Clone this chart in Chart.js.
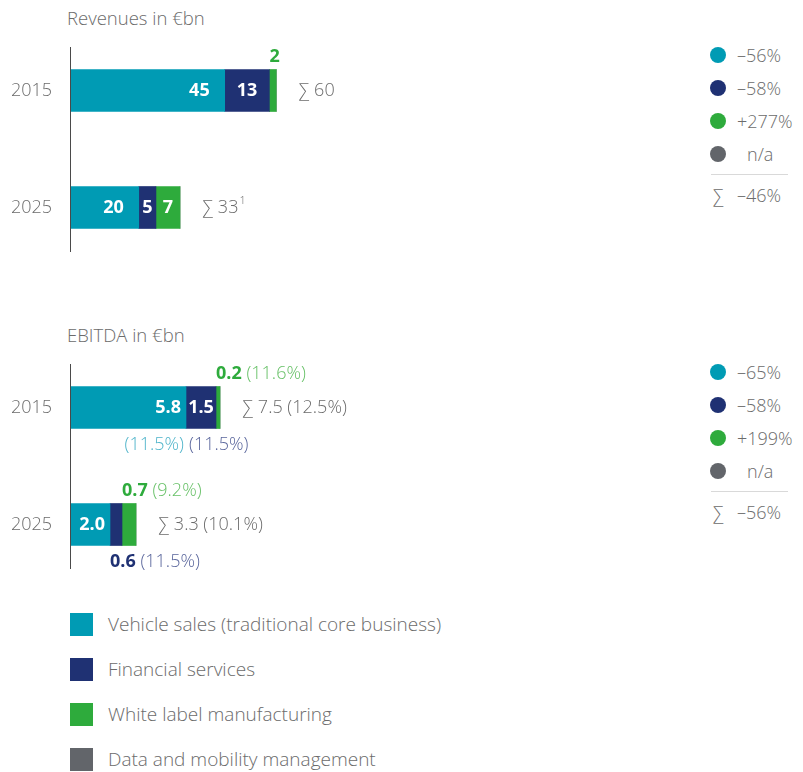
<!DOCTYPE html>
<html>
<head>
<meta charset="utf-8">
<script src="https://cdn.jsdelivr.net/npm/chart.js@4.4.0/dist/chart.umd.min.js"></script>
<style>
  body { margin: 0; width: 803px; height: 772px; background: #fff; position: relative; overflow: hidden;
         font-family: 'Open Sans', sans-serif; font-weight: 300; color: #6b6b6b; }
  canvas { position: absolute; left: 0; }
  .title { position: absolute; left: 67px; font-size: 18.5px; line-height: 22px; white-space: nowrap; }
  .row { position: absolute; left: 710px; height: 22px; display: flex; align-items: center; font-size: 18px; white-space: nowrap; }
  .dot { width: 16px; height: 16px; border-radius: 50%; margin-right: 11px; flex: none; }
  .sig { width: 16px; margin-right: 11px; text-align: center; }
  .sep { position: absolute; left: 711px; width: 77px; height: 1px; background: #d9d9d9; }
  .leg { position: absolute; left: 70px; height: 24px; display: flex; align-items: center; font-size: 19px; white-space: nowrap; }
  .sq { width: 23px; height: 23px; margin-right: 15px; flex: none; }
</style>
</head>
<body>
<div class="title" style="top:7px">Revenues in €bn</div>
<canvas id="revChart" width="620" height="234" style="top:32px"></canvas>
<div class="title" style="top:324px">EBITDA in €bn</div>
<canvas id="ebitdaChart" width="620" height="234" style="top:349px"></canvas>
<div id="extras"></div>
<script>
// ---- data ----
const years = ['2015', '2025'];
const segments = ['Vehicle sales (traditional core business)', 'Financial services',
                  'White label manufacturing', 'Data and mobility management'];

const revVehicle = [45, 20];
const revFinance = [13, 5];
const revWhiteLabel = [2, 7];
const revMobility = [0, 0];
const revTotal = [60, 33];
const revTotalNote = ['', '1'];
const revChange = ['–56%', '–58%', '+277%', 'n/a'];
const revTotalChange = '–46%';

const ebitdaVehicle = [5.8, 2.0];
const ebitdaFinance = [1.5, 0.6];
const ebitdaWhiteLabel = [0.2, 0.7];
const ebitdaMobility = [0, 0];
const ebitdaTotal = [7.5, 3.3];
const marginVehicle = [11.5, null];
const marginFinance = [11.5, 11.5];
const marginWhiteLabel = [11.6, 9.2];
const marginTotal = [12.5, 10.1];
const ebitdaChange = ['–65%', '–58%', '+199%', 'n/a'];
const ebitdaTotalChange = '–56%';

// ---- styling ----
const colors = ['#009bb4', '#1f3173', '#2eab3c', '#62656a'];
const lightColors = ['#4fb4ca', '#5a669c', '#66c066', '#888'];
const grey = '#6b6b6b';
const FONT = '"Open Sans", sans-serif';

// labels on and around the bar segments + the vertical axis line
const segmentLabels = {
  id: 'segmentLabels',
  afterDatasetsDraw(chart, args, opts) {
    const ctx = chart.ctx;
    const area = chart.chartArea;
    ctx.save();
    ctx.strokeStyle = '#4a4a4a';
    ctx.lineWidth = 1;
    ctx.beginPath();
    ctx.moveTo(area.left + 0.5, area.top + 15);
    ctx.lineTo(area.left + 0.5, area.bottom - 14);
    ctx.stroke();

    const bold = '700 18px ' + FONT;
    const light = '300 18px ' + FONT;
    ctx.textBaseline = 'middle';

    const nStack = chart.data.labels.length;
    for (let j = 0; j < nStack; j++) {
      let stackEnd = area.left, yMid = 0;
      chart.data.datasets.forEach((ds, i) => {
        const el = chart.getDatasetMeta(i).data[j];
        stackEnd = Math.max(stackEnd, el.x);
        yMid = el.y;
        const v = ds.data[j];
        if (!v) return;
        const x0 = Math.min(el.base, el.x), x1 = Math.max(el.base, el.x);
        const txt = v.toFixed(opts.decimals);
        ctx.font = bold;
        const tw = ctx.measureText(txt).width;
        const m = opts.margins ? opts.margins[i][j] : null;
        const top = el.y - el.height / 2, bottom = el.y + el.height / 2;
        if (tw <= x1 - x0 - 2) {
          ctx.fillStyle = '#fff';
          if (i === 0) {
            ctx.textAlign = 'right';
            ctx.fillText(txt, x1 - opts.vehiclePad, el.y);
          } else {
            ctx.textAlign = 'center';
            ctx.fillText(txt, (x0 + x1) / 2, el.y);
          }
          if (m != null) {
            ctx.font = light;
            ctx.fillStyle = lightColors[i];
            ctx.textAlign = i === 0 ? 'right' : 'left';
            ctx.fillText('(' + m.toFixed(1) + '%)', i === 0 ? x1 - 2 : x0 + 3, bottom + 16);
          }
        } else {
          const y = opts.outside[i] === 'above' ? top - 13 : bottom + 16;
          ctx.textAlign = 'left';
          ctx.fillStyle = colors[i];
          ctx.fillText(txt, x0, y);
          if (m != null) {
            ctx.font = light;
            ctx.fillStyle = lightColors[i];
            ctx.fillText(' (' + m.toFixed(1) + '%)', x0 + tw, y);
          }
        }
      });
      // sum label
      ctx.font = light;
      ctx.fillStyle = grey;
      ctx.textAlign = 'left';
      let sum = '∑ ' + opts.totals[j];
      if (opts.totalMargins) sum += ' (' + opts.totalMargins[j].toFixed(1) + '%)';
      const sx = stackEnd + 22;
      ctx.fillText(sum, sx, yMid);
      if (opts.totalNotes && opts.totalNotes[j]) {
        const sw = ctx.measureText(sum).width;
        ctx.font = '300 11px ' + FONT;
        ctx.fillText(opts.totalNotes[j], sx + sw + 1, yMid - 7);
      }
    }
    ctx.restore();
  }
};

function makeChart(id, series, xMax, labelOpts) {
  return new Chart(document.getElementById(id), {
    type: 'bar',
    data: {
      labels: years,
      datasets: series.map((d, i) => ({
        label: segments[i],
        data: d,
        backgroundColor: colors[i],
        borderWidth: 0,
        barThickness: 42
      }))
    },
    options: {
      indexAxis: 'y',
      responsive: false,
      animation: false,
      layout: { padding: 0, autoPadding: false },
      plugins: { legend: { display: false }, tooltip: { enabled: false }, segmentLabels: labelOpts },
      scales: {
        x: { display: false, stacked: true, min: 0, max: xMax },
        y: {
          stacked: true,
          grid: { display: false, drawTicks: false },
          border: { display: false },
          ticks: { padding: 18, color: grey, font: { family: FONT, size: 18, weight: 300 } },
          afterFit: s => { s.width = 70; s.paddingTop = 0; s.paddingBottom = 0; }
        }
      }
    },
    plugins: [segmentLabels]
  });
}

makeChart('revChart', [revVehicle, revFinance, revWhiteLabel, revMobility], 160, {
  decimals: 0, vehiclePad: 15, outside: ['below', 'below', 'above', 'above'],
  totals: revTotal, totalNotes: revTotalNote
});
makeChart('ebitdaChart', [ebitdaVehicle, ebitdaFinance, ebitdaWhiteLabel, ebitdaMobility], 27.5, {
  decimals: 1, vehiclePad: 5, outside: ['below', 'below', 'above', 'above'],
  margins: [marginVehicle, marginFinance, marginWhiteLabel, [null, null]],
  totals: ebitdaTotal.map(v => v.toFixed(1)), totalMargins: marginTotal
});

// ---- change stats on the right and the legend below ----
const extras = document.getElementById('extras');
function addStats(changes, total, offset) {
  let html = '';
  changes.forEach((c, i) => {
    const indent = c === 'n/a' ? 'padding-left:10px;' : '';
    html += `<div class="row" style="top:${44 + offset + i * 33}px"><div class="dot" style="background:${colors[i]}"></div><span style="${indent}">${c}</span></div>`;
  });
  html += `<div class="sep" style="top:${174 + offset}px"></div>`;
  html += `<div class="row" style="top:${184 + offset}px"><div class="sig">∑</div><span>${total}</span></div>`;
  extras.insertAdjacentHTML('beforeend', html);
}
addStats(revChange, revTotalChange, 0);
addStats(ebitdaChange, ebitdaTotalChange, 317);

segments.forEach((s, i) => {
  extras.insertAdjacentHTML('beforeend',
    `<div class="leg" style="top:${612 + i * 45}px"><div class="sq" style="background:${colors[i]}"></div><span>${s}</span></div>`);
});
</script>
</body>
</html>
